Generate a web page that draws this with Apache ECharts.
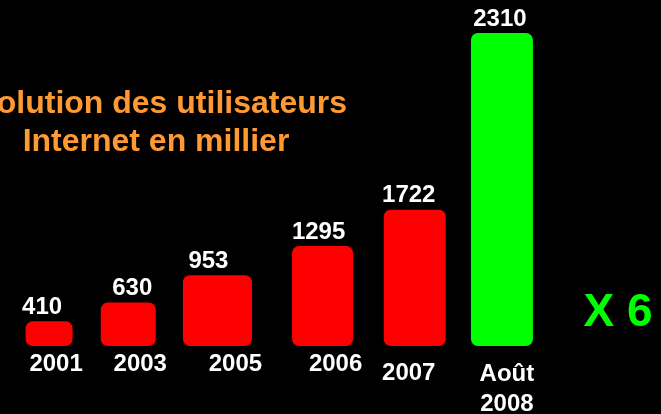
<!DOCTYPE html>
<html>
<head>
<meta charset="utf-8">
<script src="https://cdn.jsdelivr.net/npm/echarts@6/dist/echarts.min.js"></script>
<style>
  html, body { margin: 0; padding: 0; background: #000; }
  #chart { width: 661px; height: 414px; }
</style>
</head>
<body>
<div id="chart"></div>
<script>
  // données
  var years = ['2001', '2003', '2005', '2006', '2007', 'Août\n2008'];
  var users = [410, 630, 953, 1295, 1722, 2310];
  var highlightIndex = 5; // dernière barre en vert

  // mise en page des barres et des étiquettes
  var barWidths = [47, 55, 69, 61, 62, 62];
  var barShift = [3, -10, -13, 0, 0, -5];
  var labelShift = [-7, 4, -9, -4, -6, -2];
  var yearShift = [7, 12, 18, 13, -6, 5];
  var yearDrop = [0, 0, 0, 0, 9, 10];

  var font = '"Liberation Sans", Arial, sans-serif';

  function drawBar(color) {
    return function (params, api) {
      var i = api.value(0);
      var top = api.coord([i, api.value(1)]);
      var base = params.coordSys.y + params.coordSys.height;
      var w = barWidths[i];
      var cx = top[0] + barShift[i];
      var h = base - top[1];
      return {
        type: 'group',
        children: [
          {
            type: 'rect',
            shape: { x: cx - w / 2, y: top[1], width: w, height: h, r: Math.min(7, h / 3) },
            style: { fill: color }
          },
          {
            type: 'text',
            x: cx + labelShift[i],
            y: top[1] - 2,
            style: {
              text: String(api.value(1)),
              fill: '#fff',
              font: 'bold 24px ' + font,
              align: 'center',
              verticalAlign: 'bottom'
            }
          },
          {
            type: 'text',
            x: cx + yearShift[i],
            y: base + 3 + yearDrop[i],
            style: {
              text: years[i],
              fill: '#fff',
              font: 'bold 24px ' + font,
              lineHeight: 30,
              align: 'center',
              verticalAlign: 'top'
            }
          }
        ]
      };
    };
  }

  var redData = [];
  var greenData = [];
  users.forEach(function (v, i) {
    (i === highlightIndex ? greenData : redData).push([i, v]);
  });

  var myChart = echarts.init(document.getElementById('chart'));
  var option = {
    backgroundColor: '#000',
    animation: false,
    grid: { left: 0, right: 108, top: 33, bottom: 68 },
    xAxis: {
      type: 'category',
      data: years,
      axisLine: { show: false },
      axisTick: { show: false },
      axisLabel: { show: false }
    },
    yAxis: [
      { type: 'value', show: false, min: 120, max: 3800, splitLine: { show: false } },
      { type: 'value', show: false, min: 0, max: 'dataMax', splitLine: { show: false } }
    ],
    graphic: [
      {
        type: 'text', x: 347, y: 104,
        style: { text: 'Évolution des utilisateurs', fill: '#FF9933', font: 'bold 32px ' + font, align: 'right', verticalAlign: 'middle' }
      },
      {
        type: 'text', x: 156, y: 142,
        style: { text: 'Internet en millier', fill: '#FF9933', font: 'bold 32px ' + font, align: 'center', verticalAlign: 'middle' }
      },
      {
        type: 'text', x: 618, y: 313,
        style: { text: 'X 6', fill: '#00FF00', font: 'bold 46px ' + font, align: 'center', verticalAlign: 'middle' }
      }
    ],
    series: [
      { type: 'custom', yAxisIndex: 0, data: redData, encode: { x: 0, y: 1 }, renderItem: drawBar('#FF0000') },
      { type: 'custom', yAxisIndex: 1, data: greenData, encode: { x: 0, y: 1 }, renderItem: drawBar('#00FF00') }
    ]
  };
  myChart.setOption(option);
</script>
</body>
</html>
